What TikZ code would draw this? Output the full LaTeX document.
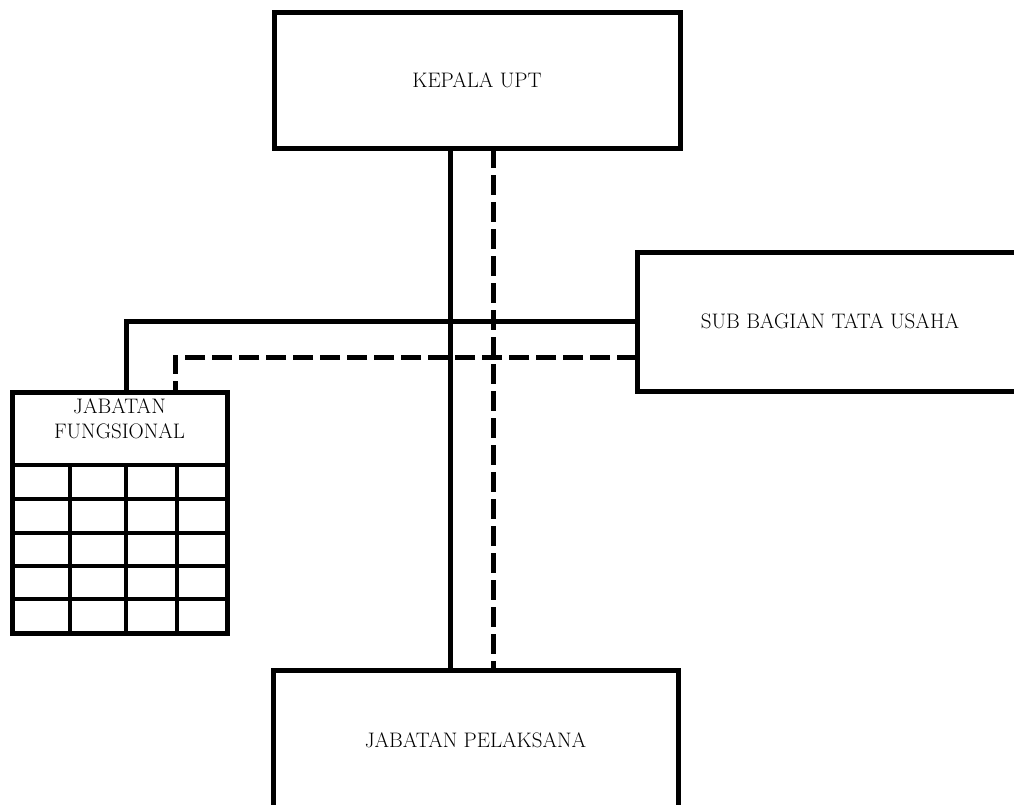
\documentclass[tikz,border=0pt]{standalone}
\begin{document}
\begin{tikzpicture}[x=1pt,y=-1pt,line cap=butt,line join=miter,
	box/.style={draw,line width=5pt,inner sep=0pt,outer sep=0pt,align=center,font=\fontsize{21}{25}\selectfont},
	conn/.style={line width=5pt},
	dashconn/.style={line width=5pt,dash pattern=on 20pt off 7pt},
	grid/.style={line width=3.5pt}]
				\useasboundingbox (0,0) rectangle (1014,804);
				\clip (0,0) rectangle (1014,804);
				\node[box,minimum width=406pt,minimum height=136pt] (kep) at (477,80) {KEPALA UPT};
				\node[box,minimum width=386pt,minimum height=139pt] (sub) at (830,321.5) {SUB BAGIAN TATA USAHA};
				\node[box,minimum width=405pt,minimum height=140pt] (jp) at (475.5,740) {JABATAN PELAKSANA};
				\node[box,minimum width=215pt,minimum height=241pt] (jf) at (119.5,512.5) {};
				\node[box,draw=none,anchor=north] (jftxt) at ([yshift=-7pt]jf.north) {JABATAN\\FUNGSIONAL};
				\foreach \y in {465,499,533,566,599} \draw[grid] (jf.west |- 0,\y) -- (jf.east |- 0,\y);
				\foreach \x in {70,126,177} \draw[grid] (\x,465) -- (jf.south -| \x,0);
				\draw[conn] ([xshift=-27pt]kep.south) -- ([xshift=-27pt]kep.south |- jp.north);
				\draw[dashconn] ([xshift=16pt]kep.south) -- ([xshift=16pt]kep.south |- jp.north);
				\draw[conn] (sub.west) -| ([xshift=6.5pt]jf.north);
				\draw[dashconn] ([yshift=-35.5pt]sub.west) -| ([xshift=55.5pt]jf.north);
			\end{tikzpicture}
\end{document}
